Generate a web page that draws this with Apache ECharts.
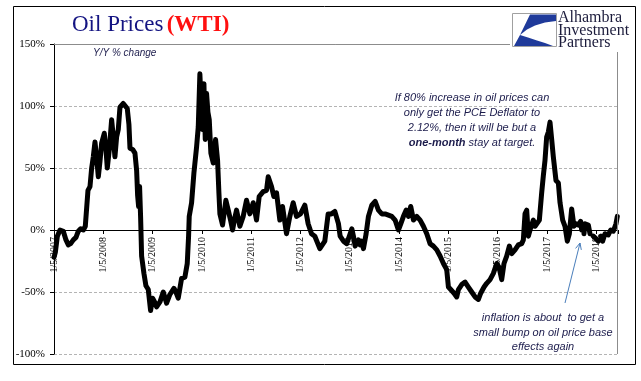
<!DOCTYPE html>
<html>
<head>
<meta charset="utf-8">
<script src="https://cdn.jsdelivr.net/npm/echarts@6/dist/echarts.min.js"></script>
<style>
html,body{margin:0;padding:0;background:#fff;}
#chart{width:641px;height:381px;}
</style>
</head>
<body>
<div id="chart"></div>
<script>
// Time in decimal years (weekly-ish samples)
const timeYears = [
2007.000,2007.027,2007.068,2007.122,2007.189,2007.243,2007.291,2007.338,2007.392,2007.446,
2007.493,2007.541,2007.595,2007.635,2007.662,2007.689,2007.730,2007.764,2007.797,2007.831,
2007.865,2007.899,2007.932,2007.966,2008.020,2008.054,2008.081,2008.122,2008.169,2008.203,
2008.236,2008.270,2008.304,2008.338,2008.405,2008.446,2008.486,2008.520,2008.541,2008.595,
2008.642,2008.676,2008.696,2008.716,2008.736,2008.757,2008.777,2008.824,2008.865,2008.912,
2008.959,2009.000,2009.041,2009.081,2009.149,2009.216,2009.284,2009.351,2009.432,2009.473,
2009.520,2009.588,2009.655,2009.703,2009.730,2009.743,2009.791,2009.838,2009.892,2009.926,
2009.959,2009.986,2010.014,2010.041,2010.068,2010.095,2010.122,2010.149,2010.182,2010.230,
2010.277,2010.318,2010.345,2010.365,2010.419,2010.486,2010.534,2010.581,2010.622,2010.669,
2010.703,2010.770,2010.838,2010.905,2010.973,2011.041,2011.108,2011.162,2011.243,2011.311,
2011.345,2011.412,2011.459,2011.514,2011.581,2011.635,2011.716,2011.784,2011.851,2011.919,
2012.000,2012.088,2012.155,2012.223,2012.291,2012.392,2012.493,2012.561,2012.628,2012.696,
2012.770,2012.804,2012.872,2012.939,2013.007,2013.041,2013.074,2013.108,2013.176,2013.209,
2013.243,2013.277,2013.331,2013.378,2013.446,2013.514,2013.581,2013.649,2013.716,2013.784,
2013.851,2013.919,2013.986,2014.034,2014.088,2014.142,2014.189,2014.236,2014.291,2014.358,
2014.426,2014.493,2014.561,2014.628,2014.696,2014.764,2014.831,2014.899,2014.966,2015.000,
2015.047,2015.115,2015.169,2015.203,2015.270,2015.338,2015.405,2015.473,2015.541,2015.608,
2015.655,2015.723,2015.777,2015.845,2015.912,2015.980,2016.027,2016.081,2016.128,2016.182,
2016.236,2016.284,2016.351,2016.419,2016.486,2016.520,2016.554,2016.588,2016.622,2016.655,
2016.723,2016.757,2016.791,2016.845,2016.892,2016.926,2016.959,2016.993,2017.027,2017.061,
2017.095,2017.128,2017.182,2017.230,2017.264,2017.318,2017.365,2017.412,2017.453,2017.500,
2017.547,2017.588,2017.635,2017.682,2017.703,2017.725,2017.750,2017.770,2017.791,2017.838,
2017.872,2017.905,2017.939,2017.993,2018.041,2018.065,2018.088,2018.128,2018.176,2018.210,
2018.243,2018.291,2018.345,2018.399,2018.426
];
// Year-over-year % change of WTI price (null = missing week)
const yoyChange = [
-22,-18,-5,0,-1,-8,-12,-11,-8,-6,
-1,1,0,3,3,32,35,50,59,71,
58,43,55,70,78,65,50,65,89,75,
59,75,81,99,102,100,98,85,66,65,
62,48,28,19,35,10,-21,-35,-45,-48,
-65,-55,-58,-62,-58,-50,-59,-52,-47,-50,
-55,-39,-38,-27,-5,11,22,46,67,83,
126,100,81,118,73,110,95,89,62,54,
73,56,30,13,4,24,16,8,0,10,
16,3,11,24,13,22,8,27,31,32,
43,35,27,30,8,19,-3,11,22,11,
13,20,5,-3,-5,-15,-9,13,13,15,
5,-5,-9,-11,-3,1,-5,-13,-8,-12,
-9,-15,-3,11,20,23,16,13,13,12,
11,8,0,5,11,16,11,19,8,11,
8,3,-3,-11,-13,-16,-21,-27,-32,-46,
-48,-51,-54,-48,-44,-42,-46,-50,-54,-56,
-51,-46,-43,-40,-35,-27,-30,-40,-27,-21,
-13,-19,-16,-12,-11,-8,13,16,-5,0,
8,3,4,8,30,44,56,75,79,87,
73,59,40,38,22,8,3,-9,-3,17,
3,5,4,7,0,null,-3,5,5,4,
-3,null,-5,-7,-9,null,-5,-9,-3,null,
-4,0,-1,5,11
];
const yTicks = [-100, -50, 0, 50, 100, 150];
const xTickYears = [2007,2008,2009,2010,2011,2012,2013,2014,2015,2016,2017,2018];

const seriesData = timeYears.map((t, i) => [t, yoyChange[i] === null ? '-' : yoyChange[i]]);

const chart = echarts.init(document.getElementById('chart'), null, {renderer: 'canvas'});
const serif = 'Liberation Serif, Times New Roman, serif';
const sans = 'Liberation Sans, Arial, sans-serif';
const noteColor = '#1c1c4c';

// grid geometry
const gridLeft = 54, gridRight = 23, gridTop = 44, gridBottom = 27, chartW = 641, chartH = 381;
const plotH = chartH - gridTop - gridBottom;
// offset that moves the bottom x-axis up to the 0% line
const zeroOffset = -plotH * (0 - yTicks[0]) / (yTicks[yTicks.length - 1] - yTicks[0]);
const plotRightX = chartW - gridRight - 0.5;

chart.setOption({
  animation: false,
  backgroundColor: '#ffffff',
  grid: {
    left: gridLeft, right: gridRight, top: gridTop, bottom: gridBottom,
    show: false
  },
  xAxis: {
    type: 'value',
    position: 'bottom',
    offset: zeroOffset,
    min: xTickYears[0],
    max: 2018.44,
    interval: 1,
    axisLine: {show: true, onZero: false, lineStyle: {color: '#000', width: 1}},
    axisTick: {show: true, length: 4, lineStyle: {color: '#000'}},
    axisLabel: {
      rotate: 90, margin: 7,
      fontFamily: serif, fontSize: 10, color: '#000',
      formatter: v => xTickYears.includes(v) ? '1/5/' + v : ''
    },
    splitLine: {show: false}
  },
  yAxis: {
    type: 'value',
    min: yTicks[0], max: yTicks[yTicks.length - 1], interval: 50,
    axisLine: {show: true, lineStyle: {color: '#000', width: 1}},
    axisTick: {show: true, length: 4, lineStyle: {color: '#000'}},
    axisLabel: {
      margin: 9, fontFamily: serif, fontSize: 11, color: '#000',
      formatter: '{value}%'
    },
    splitLine: {show: true, lineStyle: {color: '#b4b4b4', type: [3, 2], width: 1}}
  },
  series: [{
    type: 'line',
    data: seriesData,
    showSymbol: false,
    connectNulls: false,
    lineStyle: {color: '#000', width: 5, join: 'round', cap: 'round'},
    z: 3
  }],
  graphic: [
    // plot-area frame: top and right edges
    {type: 'line', silent: true, z: 50,
     shape: {x1: gridLeft, y1: gridTop + 0.5, x2: plotRightX, y2: gridTop + 0.5},
     style: {stroke: '#8c8c8c', lineWidth: 1}},
    {type: 'line', silent: true, z: 50,
     shape: {x1: plotRightX, y1: gridTop, x2: plotRightX, y2: chartH - gridBottom},
     style: {stroke: '#8c8c8c', lineWidth: 1}},
    // outer chart border
    {type: 'rect', silent: true, z: 100,
     shape: {x: 13.5, y: 6.5, width: 622, height: 358},
     style: {fill: 'none', stroke: '#000', lineWidth: 1}},
    // logo
    {type: 'rect', silent: true, z: 100,
     shape: {x: 510, y: 8, width: 123, height: 44},
     style: {fill: '#fff'}},
    {type: 'rect', silent: true, z: 101,
     shape: {x: 512.5, y: 13.5, width: 44, height: 33},
     style: {fill: '#fff', stroke: '#a0a0a0', lineWidth: 1}},
    {type: 'polygon', silent: true, z: 102,
     shape: {points: [[530,14.5],[556,14.5],[556,21],[545,22.5],[535,25.5],[527,29.5],[520,35]]},
     style: {fill: '#1f3a9a'}},
    {type: 'polygon', silent: true, z: 102,
     shape: {points: [[520,35],[528,37.5],[537,40.5],[545,43],[553,46],[514,46]]},
     style: {fill: '#1f3a9a'}},
    {type: 'text', silent: true, z: 102,
     style: {x: 558, y: 12, text: 'Alhambra\nInvestment\nPartners',
             font: '16px ' + serif, lineHeight: 12.5, fill: '#1b1b3b',
             verticalAlign: 'top', align: 'left'}},
    // title
    {type: 'text', silent: true, z: 102,
     style: {x: 72, y: 25, verticalAlign: 'middle', align: 'left',
             text: '{a|Oil Prices} {b|(WTI)}',
             rich: {
               a: {fontFamily: serif, fontSize: 23, fill: '#141482'},
               b: {fontFamily: serif, fontSize: 23, fontWeight: 'bold', fill: '#ff1010'}
             }}},
    {type: 'text', silent: true, z: 102,
     style: {x: 93, y: 53, verticalAlign: 'middle', align: 'left',
             text: 'Y/Y % change', font: 'italic 10px ' + sans, fill: noteColor}},
    // annotations
    {type: 'text', silent: true, z: 102,
     style: {x: 472, y: 90.5, verticalAlign: 'top', align: 'center',
             text: '{n|If 80% increase in oil prices can}\n{n|only get the PCE Deflator to}\n{n|2.12%, then it will be but a}\n{b|one-month}{n| stay at target.}',
             rich: {
               n: {fontFamily: sans, fontStyle: 'italic', fontSize: 11, fill: noteColor, lineHeight: 15},
               b: {fontFamily: sans, fontStyle: 'italic', fontWeight: 'bold', fontSize: 11, fill: noteColor, lineHeight: 15}
             }}},
    {type: 'text', silent: true, z: 102,
     style: {x: 543, y: 311, verticalAlign: 'top', align: 'center',
             text: 'inflation is about  to get a\nsmall bump on oil price base\neffects again',
             font: 'italic 11px ' + sans, lineHeight: 14.5, fill: noteColor}},
    {type: 'line', silent: true, z: 102,
     shape: {x1: 565, y1: 303, x2: 580, y2: 243},
     style: {stroke: '#4a7ebb', lineWidth: 1}},
    {type: 'polyline', silent: true, z: 102,
     shape: {points: [[575.6, 248.4], [580, 243], [581.3, 249.9]]},
     style: {stroke: '#4a7ebb', lineWidth: 1, fill: 'none'}}
  ]
});
</script>
</body>
</html>
